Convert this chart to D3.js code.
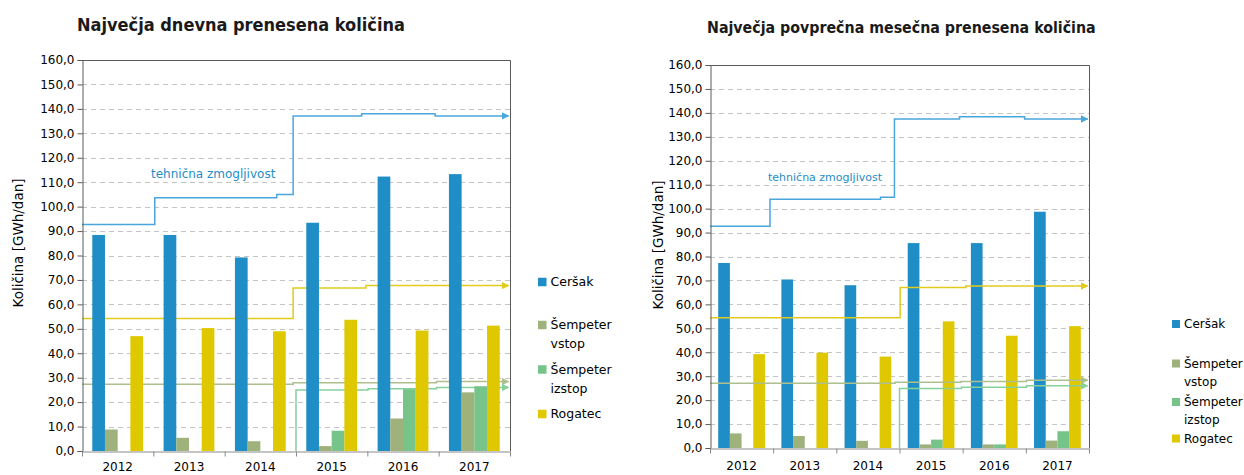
<!DOCTYPE html>
<html>
<head>
<meta charset="utf-8">
<script src="https://cdn.jsdelivr.net/npm/d3@7"></script>
<style>
  html, body { margin: 0; padding: 0; background: #fff; }
  svg { display: block; font-family: "DejaVu Sans", sans-serif; }
</style>
</head>
<body>
<svg id="chart" width="1244" height="475"></svg>
<script>
// -----------------------------
// DATA
// -----------------------------
const YEARS = ["2012", "2013", "2014", "2015", "2016", "2017"];
const SERIES = ["Ceršak", "Šempeter vstop", "Šempeter izstop", "Rogatec"];
const Y_TICKS = d3.range(0, 161, 10);

// Največja dnevna prenesena količina (GWh/dan)
const DAY_CERSAK   = [88.4, 88.4, 79.2, 93.4, 112.3, 113.3];
const DAY_SEMP_IN  = [8.8, 5.4, 4.0, 2.0, 13.3, 24.0];
const DAY_SEMP_OUT = [0, 0, 0, 8.3, 25.3, 26.5];
const DAY_ROGATEC  = [47.0, 50.3, 49.0, 53.7, 49.3, 51.3];

// Največja povprečna mesečna prenesena količina (GWh/dan)
const MON_CERSAK   = [77.3, 70.4, 68.0, 85.6, 85.6, 98.7];
const MON_SEMP_IN  = [6.1, 5.0, 3.0, 1.5, 1.5, 3.1];
const MON_SEMP_OUT = [0, 0, 0, 3.5, 1.5, 7.0];
const MON_ROGATEC  = [39.2, 39.8, 38.2, 52.9, 46.9, 50.9];

// tehnična zmogljivost: [year position, value] steps
const DAY_CAP_CERSAK   = [[2012, 92.7], [2013.02, 103.6], [2014.73, 105.0], [2014.96, 137.1], [2015.92, 138.0], [2016.95, 137.1]];
const DAY_CAP_ROGATEC  = [[2012, 54.2], [2014.96, 66.7], [2015.98, 67.7]];
const DAY_CAP_SEMP_IN  = [[2012, 27.3], [2014.96, 27.9], [2016.97, 28.4]];
const DAY_CAP_SEMP_OUT = [[2015.0, 0], [2015.0, 25.0], [2016.01, 25.5], [2016.97, 26.0]];

const MON_CAP_CERSAK   = [[2012, 92.6], [2012.95, 103.9], [2014.70, 104.8], [2014.92, 137.4], [2015.95, 138.4], [2016.98, 137.4]];
const MON_CAP_ROGATEC  = [[2012, 54.4], [2015.01, 67.1], [2016.05, 67.7]];
const MON_CAP_SEMP_IN  = [[2012, 27.1], [2014.93, 27.5], [2015.97, 27.8], [2017.01, 28.3]];
const MON_CAP_SEMP_OUT = [[2015.0, 0], [2015.0, 24.9], [2015.98, 25.4], [2017.01, 26.0]];

// -----------------------------
// STYLE
// -----------------------------
const BAR_COLORS = ["#1f8dc6", "#9fb27b", "#77c48a", "#dfc800"];
const LINE_COLORS = ["#4aa6dc", "#acbf8d", "#86d09c", "#e2cb1a"];
const FRAME = "#5a5a5a";

const svg = d3.select("#chart");

const defs = svg.append("defs");
LINE_COLORS.forEach((c, i) => {
  defs.append("marker")
    .attr("id", "arrow" + i)
    .attr("viewBox", "0 0 10 10")
    .attr("refX", 9).attr("refY", 5)
    .attr("markerWidth", 5).attr("markerHeight", 5)
    .attr("markerUnits", "strokeWidth")
    .attr("orient", "auto")
    .append("path")
    .attr("d", "M0,0L10,5L0,10Z")
    .attr("fill", c);
});

const fmt = v => d3.format(".1f")(v).replace(".", ",");

function drawChart(c) {
  const g = svg.append("g");

  const x = d3.scaleBand().domain(YEARS)
    .range([c.left, c.right])
    .paddingInner(c.pad).paddingOuter(c.pad / 2);
  const xs = d3.scaleBand().domain(SERIES).range([0, x.bandwidth()]);
  const t = d3.scaleLinear().domain([2012, 2018]).range([c.left, c.right]);
  const y = d3.scaleLinear().domain([0, 160]).range([c.bottom, c.top]);

  // grid
  g.append("g").selectAll("line")
    .data(Y_TICKS.filter(v => v > 0 && v < 160))
    .join("line")
    .attr("x1", c.left).attr("x2", c.right)
    .attr("y1", d => Math.round(y(d)) + 0.5).attr("y2", d => Math.round(y(d)) + 0.5)
    .attr("stroke", "#c4c4c4")
    .attr("stroke-dasharray", "5,4");

  // step lines
  const line = d3.line()
    .x(d => t(d[0]))
    .y(d => y(d[1]))
    .curve(d3.curveStepAfter);

  const drawSteps = () => {
    const lg = g.append("g");
    c.caps.forEach((steps, i) => {
      const pts = steps.concat([[2017.98, steps[steps.length - 1][1]]]);
      lg.append("path")
        .datum(pts)
        .attr("d", line)
        .attr("fill", "none")
        .attr("stroke", LINE_COLORS[i])
        .attr("stroke-width", 1.5)
        .attr("marker-end", `url(#arrow${i})`);
    });
  };

  if (!c.linesOnTop) drawSteps();

  // bars
  const barData = [];
  YEARS.forEach((yr, j) => {
    SERIES.forEach((s, i) => {
      barData.push({ yr, s, i, v: c.values[i][j] });
    });
  });

  g.append("g").selectAll("rect")
    .data(barData.filter(d => d.v > 0))
    .join("rect")
    .attr("x", d => x(d.yr) + xs(d.s))
    .attr("width", xs.bandwidth())
    .attr("y", d => y(d.v))
    .attr("height", d => y(0) - y(d.v))
    .attr("fill", d => BAR_COLORS[d.i]);

  if (c.linesOnTop) drawSteps();

  // y axis
  const ya = g.append("g")
    .attr("transform", `translate(${c.left + 0.5},0)`)
    .call(d3.axisLeft(y).tickValues(Y_TICKS).tickFormat(fmt).tickSize(5).tickPadding(3));
  ya.select(".domain").attr("stroke", FRAME);
  ya.selectAll(".tick line").attr("stroke", FRAME);
  ya.selectAll("text")
    .attr("font-size", c.tickSize)
    .attr("font-family", "DejaVu Sans")
    .attr("fill", "#000");

  // x axis: tick marks at year boundaries
  const xa = g.append("g")
    .attr("transform", `translate(0,${c.bottom + 0.5})`)
    .call(d3.axisBottom(t).tickValues(d3.range(2012, 2019)).tickFormat("").tickSize(5).tickSizeOuter(0));
  xa.select(".domain").attr("stroke", "#8a8a8a");
  xa.selectAll(".tick line").attr("stroke", "#8a8a8a");

  // x labels
  const xl = g.append("g")
    .attr("transform", `translate(0,${c.bottom})`)
    .call(d3.axisBottom(x).tickSize(0).tickPadding(c.labelPad));
  xl.select(".domain").remove();
  xl.selectAll("text")
    .attr("font-size", c.tickSize)
    .attr("font-family", "DejaVu Sans")
    .attr("fill", "#000");

  // frame (top / right)
  g.append("path")
    .attr("d", `M${c.left},${c.top + 0.5}H${c.right + 0.5}V${c.bottom}`)
    .attr("fill", "none")
    .attr("stroke", FRAME);

  // title
  g.append("text")
    .attr("x", c.titleX).attr("y", c.titleY)
    .attr("font-family", "'DejaVu Sans Condensed', 'DejaVu Sans'")
    .attr("font-stretch", "condensed")
    .attr("font-weight", "bold")
    .attr("font-size", c.titleSize)
    .attr("fill", "#1a1a1a")
    .text(c.title);

  // y title
  g.append("text")
    .attr("transform", `translate(${c.yTitleX},${c.yTitleY}) rotate(-90)`)
    .attr("text-anchor", "middle")
    .attr("font-size", c.yTitleSize)
    .attr("fill", "#000")
    .text("Količina [GWh/dan]");

  // capacity label
  g.append("text")
    .attr("x", c.capX).attr("y", c.capY)
    .attr("font-size", c.capSize)
    .attr("fill", "#1f8dc6")
    .text("tehnična zmogljivost");

  // legend
  const leg = g.append("g");
  c.legend.forEach((ly, i) => {
    leg.append("rect")
      .attr("x", c.legX).attr("y", ly - c.legBox / 2)
      .attr("width", c.legBox).attr("height", c.legBox)
      .attr("fill", BAR_COLORS[i]);
    const words = SERIES[i].split(" ");
    words.forEach((w, k) => {
      leg.append("text")
        .attr("x", c.legX + c.legBox + 4)
        .attr("y", ly + k * c.legLine)
        .attr("dy", "0.35em")
        .attr("font-size", c.legSize)
        .attr("fill", "#000")
        .text(w);
    });
  });
}

drawChart({
  left: 82, right: 510, top: 60, bottom: 451,
  pad: 0.288, labelPad: 11,
  values: [DAY_CERSAK, DAY_SEMP_IN, DAY_SEMP_OUT, DAY_ROGATEC],
  caps: [DAY_CAP_CERSAK, DAY_CAP_SEMP_IN, DAY_CAP_SEMP_OUT, DAY_CAP_ROGATEC],
  linesOnTop: false,
  tickSize: 12,
  title: "Največja dnevna prenesena količina",
  titleX: 77, titleY: 31, titleSize: 18,
  yTitleX: 23, yTitleY: 243, yTitleSize: 13.5,
  capX: 151, capY: 177.5, capSize: 12,
  legX: 538, legBox: 8.5, legSize: 12.5, legLine: 19,
  legend: [282, 325, 369.5, 414]
});

drawChart({
  left: 710, right: 1089, top: 65, bottom: 448,
  pad: 0.26, labelPad: 13,
  values: [MON_CERSAK, MON_SEMP_IN, MON_SEMP_OUT, MON_ROGATEC],
  caps: [MON_CAP_CERSAK, MON_CAP_SEMP_IN, MON_CAP_SEMP_OUT, MON_CAP_ROGATEC],
  linesOnTop: true,
  tickSize: 12,
  title: "Največja povprečna mesečna prenesena količina",
  titleX: 707, titleY: 33, titleSize: 15.8,
  yTitleX: 663, yTitleY: 245, yTitleSize: 13.5,
  capX: 768, capY: 180.5, capSize: 11,
  legX: 1172, legBox: 8, legSize: 12, legLine: 18,
  legend: [324, 363.5, 402, 438.5]
});
</script>
</body>
</html>
